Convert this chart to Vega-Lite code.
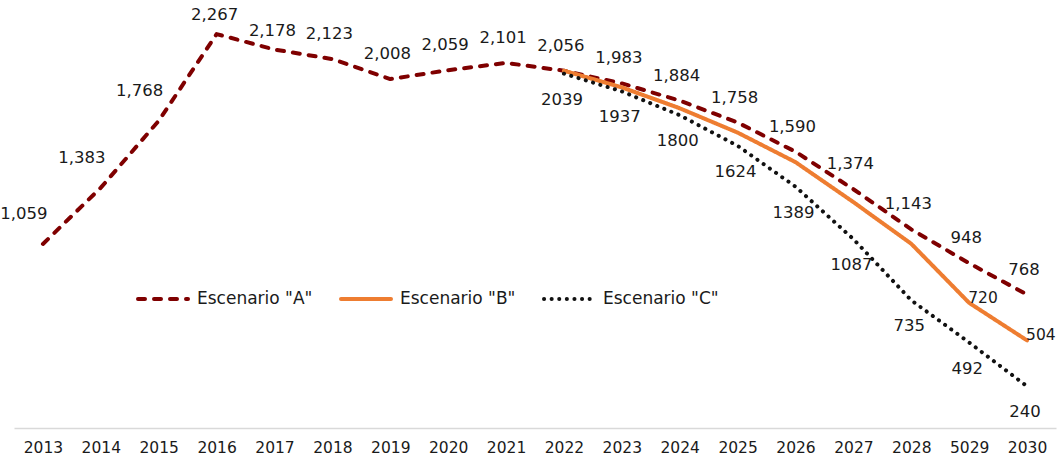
{
  "$schema": "https://vega.github.io/schema/vega-lite/v6.json",
  "width": 1042,
  "height": 428,
  "autosize": {"type": "none"},
  "padding": {"left": 14, "top": 0, "right": 1, "bottom": 38},
  "background": "white",
  "config": {
    "view": {"stroke": null},
    "font": "DejaVu Sans",
    "text": {"font": "DejaVu Sans", "fontSize": 16.5, "fill": "#1a1a1a"}
  },
  "data": {
    "values": [
      {"year": "2013", "series": "Escenario \"A\"", "value": 1059},
      {"year": "2014", "series": "Escenario \"A\"", "value": 1383},
      {"year": "2015", "series": "Escenario \"A\"", "value": 1768},
      {"year": "2016", "series": "Escenario \"A\"", "value": 2267},
      {"year": "2017", "series": "Escenario \"A\"", "value": 2178},
      {"year": "2018", "series": "Escenario \"A\"", "value": 2123},
      {"year": "2019", "series": "Escenario \"A\"", "value": 2008},
      {"year": "2020", "series": "Escenario \"A\"", "value": 2059},
      {"year": "2021", "series": "Escenario \"A\"", "value": 2101},
      {"year": "2022", "series": "Escenario \"A\"", "value": 2056},
      {"year": "2023", "series": "Escenario \"A\"", "value": 1983},
      {"year": "2024", "series": "Escenario \"A\"", "value": 1884},
      {"year": "2025", "series": "Escenario \"A\"", "value": 1758},
      {"year": "2026", "series": "Escenario \"A\"", "value": 1590},
      {"year": "2027", "series": "Escenario \"A\"", "value": 1374},
      {"year": "2028", "series": "Escenario \"A\"", "value": 1143},
      {"year": "5029", "series": "Escenario \"A\"", "value": 948},
      {"year": "2030", "series": "Escenario \"A\"", "value": 768},
      {"year": "2022", "series": "Escenario \"B\"", "value": 2056},
      {"year": "2023", "series": "Escenario \"B\"", "value": 1960},
      {"year": "2024", "series": "Escenario \"B\"", "value": 1840},
      {"year": "2025", "series": "Escenario \"B\"", "value": 1700},
      {"year": "2026", "series": "Escenario \"B\"", "value": 1530},
      {"year": "2027", "series": "Escenario \"B\"", "value": 1300},
      {"year": "2028", "series": "Escenario \"B\"", "value": 1060},
      {"year": "5029", "series": "Escenario \"B\"", "value": 720},
      {"year": "2030", "series": "Escenario \"B\"", "value": 504},
      {"year": "2022", "series": "Escenario \"C\"", "value": 2039},
      {"year": "2023", "series": "Escenario \"C\"", "value": 1937},
      {"year": "2024", "series": "Escenario \"C\"", "value": 1800},
      {"year": "2025", "series": "Escenario \"C\"", "value": 1624},
      {"year": "2026", "series": "Escenario \"C\"", "value": 1389},
      {"year": "2027", "series": "Escenario \"C\"", "value": 1087},
      {"year": "2028", "series": "Escenario \"C\"", "value": 735},
      {"year": "5029", "series": "Escenario \"C\"", "value": 492},
      {"year": "2030", "series": "Escenario \"C\"", "value": 240}
    ]
  },
  "encoding": {
    "x": {
      "field": "year",
      "type": "ordinal",
      "scale": {
        "type": "point",
        "padding": 0.5,
        "domain": ["2013","2014","2015","2016","2017","2018","2019","2020","2021","2022","2023","2024","2025","2026","2027","2028","5029","2030"]
      },
      "axis": {
        "title": null,
        "labelAngle": 0,
        "ticks": false,
        "grid": false,
        "domainColor": "#d9d9d9",
        "domainWidth": 1.5,
        "labelFont": "DejaVu Sans",
        "labelFontSize": 15.5,
        "labelColor": "#1a1a1a",
        "labelPadding": 12
      }
    },
    "y": {
      "field": "value",
      "type": "quantitative",
      "scale": {"domain": [0, 2463], "nice": false, "zero": true},
      "axis": null
    }
  },
  "layer": [
    {
      "mark": {"type": "line", "strokeWidth": 4, "strokeCap": "round", "strokeJoin": "round"},
      "encoding": {
        "color": {
          "field": "series",
          "type": "nominal",
          "scale": {
            "domain": ["Escenario \"A\"", "Escenario \"B\"", "Escenario \"C\""],
            "range": ["#7f0000", "#ee7d31", "#111111"]
          },
          "legend": {
            "title": null,
            "orient": "none",
            "legendX": 122,
            "legendY": 272,
            "direction": "horizontal",
            "symbolType": "stroke",
            "symbolSize": 2500,
            "symbolStrokeWidth": 4,
            "labelFont": "DejaVu Sans",
            "labelFontSize": 17,
            "labelColor": "#1a1a1a",
            "labelOffset": 7,
            "columnPadding": 20,
            "padding": 0,
            "encode": {"symbols": {"update": {"strokeCap": {"value": "round"}}}}
          }
        },
        "strokeDash": {
          "field": "series",
          "type": "nominal",
          "scale": {
            "domain": ["Escenario \"A\"", "Escenario \"B\"", "Escenario \"C\""],
            "range": [[7, 9], [1, 0], [0.1, 7.5]]
          },
          "legend": {
            "title": null,
            "orient": "none",
            "legendX": 122,
            "legendY": 272,
            "direction": "horizontal",
            "symbolType": "stroke",
            "symbolSize": 2500,
            "symbolStrokeWidth": 4,
            "labelFont": "DejaVu Sans",
            "labelFontSize": 17,
            "labelColor": "#1a1a1a",
            "labelOffset": 7,
            "columnPadding": 20,
            "padding": 0,
            "encode": {"symbols": {"update": {"strokeCap": {"value": "round"}}}}
          }
        }
      }
    },
    {
      "transform": [
        {"filter": "datum.series === 'Escenario \"A\"' && (datum.year === '2013' || datum.year === '2014' || datum.year === '2015')"}
      ],
      "mark": {"type": "text", "dx": -19, "dy": -30},
      "encoding": {"text": {"field": "value", "type": "quantitative", "format": ","}}
    },
    {
      "transform": [
        {"filter": "datum.series === 'Escenario \"A\"' && (datum.year === '2016' || datum.year === '2017')"}
      ],
      "mark": {"type": "text", "dx": -2, "dy": -19},
      "encoding": {"text": {"field": "value", "type": "quantitative", "format": ","}}
    },
    {
      "transform": [
        {"filter": "datum.series === 'Escenario \"A\"' && indexof(['2013','2014','2015','2016','2017'], datum.year) < 0"}
      ],
      "mark": {"type": "text", "dx": -3, "dy": -25},
      "encoding": {"text": {"field": "value", "type": "quantitative", "format": ","}}
    },
    {
      "transform": [
        {"filter": "datum.series === 'Escenario \"C\"'"}
      ],
      "mark": {"type": "text", "dx": -2, "dy": 26},
      "encoding": {"text": {"field": "value", "type": "quantitative", "format": "d"}}
    },
    {
      "transform": [
        {"filter": "datum.series === 'Escenario \"B\"' && (datum.year === '5029' || datum.year === '2030')"}
      ],
      "mark": {"type": "text", "align": "left", "dx": -1, "dy": -5, "fontSize": 15.5},
      "encoding": {"text": {"field": "value", "type": "quantitative", "format": "d"}}
    }
  ]
}
